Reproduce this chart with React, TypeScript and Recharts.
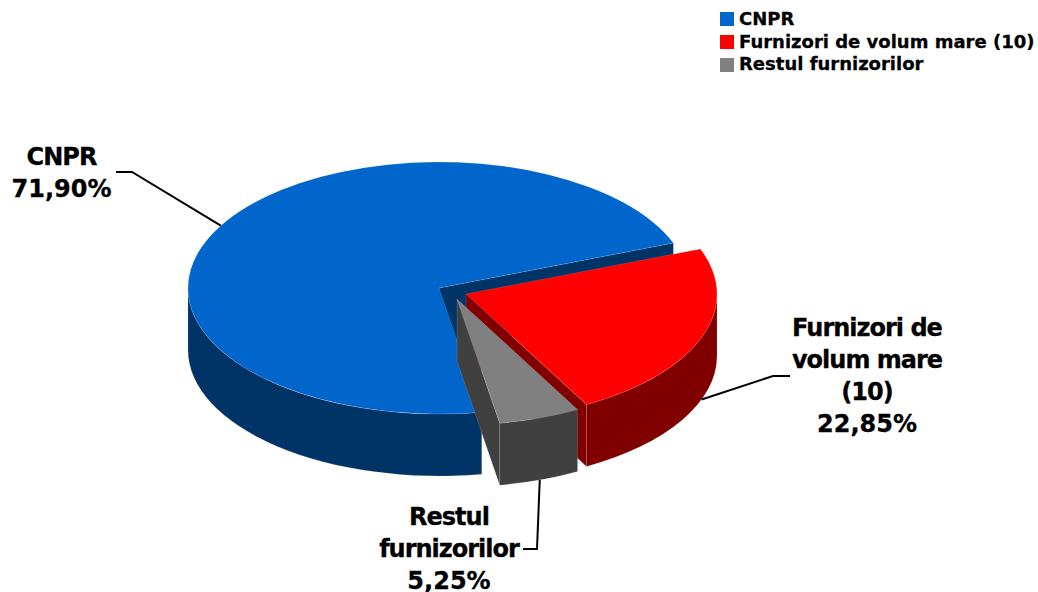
import { Pie, PieChart } from "recharts"

const categories = ["CNPR", "Furnizori de volum mare (10)", "Restul furnizorilor"]
const shares = [71.9, 22.85, 5.25]

const topColors = ["#0066cc", "#ff0000", "#808080"]
const sideColors = ["#003366", "#800000", "#404040"]

// exploded slices, moved away from the pie centre (px)
const explode = [
  { dx: 0, dy: 0 },
  { dx: 27, dy: 6 },
  { dx: 18, dy: 11 },
]

const labelLines = [
  ["CNPR", "71,90%"],
  ["Furnizori de", "volum mare", "(10)", "22,85%"],
  ["Restul", "furnizorilor", "5,25%"],
]

const labelLayout = [
  { x: 61.5, y: 165, onWall: false, elbow: [[132, 172], [116, 172]] },
  { x: 867, y: 336, onWall: true, elbow: [[773, 376], [790, 376]] },
  { x: 449, y: 525, onWall: true, elbow: [[537, 549], [523, 549]] },
]

const tableData = categories.map((name, i) => ({ name, value: shares[i], fill: topColors[i], index: i }))

const FONT = "'DejaVu Sans', Verdana, sans-serif"
const RY = 126
const DEPTH = 62
const EDGE = "rgba(255,255,255,0.2)"

const RAD = Math.PI / 180

function ellipsePoint(cx: number, cy: number, rx: number, angle: number) {
  return { x: cx + rx * Math.cos(angle * RAD), y: cy - RY * Math.sin(angle * RAD) }
}

function Slice3D(props: any) {
  const { cx, cy, outerRadius: rx, payload } = props
  const i = payload.index
  const x0 = cx + explode[i].dx
  const y0 = cy + explode[i].dy

  let start = props.startAngle
  let end = props.endAngle
  if (start > 180) {
    start -= 360
    end -= 360
  }

  const a = ellipsePoint(x0, y0, rx, start)
  const b = ellipsePoint(x0, y0, rx, end)
  const large = start - end > 180 ? 1 : 0
  const top = `M${x0},${y0} L${a.x},${a.y} A${rx},${RY} 0 ${large} 1 ${b.x},${b.y} Z`

  // the cut face at the clockwise end looks toward the viewer
  const cut = `M${x0},${y0} L${b.x},${b.y} L${b.x},${b.y + DEPTH} L${x0},${y0 + DEPTH} Z`

  // outer rim, only the front half of the ellipse
  const rimStart = Math.min(start, 0)
  const rimEnd = Math.max(end, -180)
  const p = ellipsePoint(x0, y0, rx, rimStart)
  const q = ellipsePoint(x0, y0, rx, rimEnd)
  const rim = `M${p.x},${p.y} A${rx},${RY} 0 0 1 ${q.x},${q.y} L${q.x},${q.y + DEPTH} A${rx},${RY} 0 0 0 ${p.x},${p.y + DEPTH} Z`

  return (
    <g>
      <path d={cut} fill={sideColors[i]} stroke={EDGE} strokeWidth={0.6} />
      <path d={rim} fill={sideColors[i]} stroke={EDGE} strokeWidth={0.6} />
      <path d={top} fill={topColors[i]} stroke={EDGE} strokeWidth={0.6} />
    </g>
  )
}

function SliceLabel(props: any) {
  const { cx, cy, outerRadius: rx, midAngle, index } = props
  const layout = labelLayout[index]
  const anchor = ellipsePoint(cx + explode[index].dx, cy + explode[index].dy, rx, midAngle)
  const y = anchor.y + (layout.onWall ? DEPTH : 0)
  const points = [[anchor.x, y], ...layout.elbow].map((pt) => pt.join(",")).join(" ")

  return (
    <g>
      <polyline points={points} fill="none" stroke="#000" strokeWidth={2} />
      <text
        textAnchor="middle"
        fontFamily={FONT}
        fontWeight="bold"
        fontSize={24}
        fill="#000"
        stroke="#000"
        strokeWidth={0.3}
      >
        {labelLines[index].map((line, n) => (
          <tspan key={line} x={layout.x} y={layout.y + n * 32} letterSpacing={line.endsWith("%") ? 0 : -1}>
            {line}
          </tspan>
        ))}
      </text>
    </g>
  )
}

function TopLegend() {
  return (
    <g fontFamily={FONT} fontWeight="bold" fontSize={18}>
      {categories.map((name, i) => (
        <g key={name}>
          <rect x={720} y={12 + i * 23} width={14} height={14} fill={topColors[i]} />
          <text x={739} y={25 + i * 22.7} fill="#000" stroke="#000" strokeWidth={0.3}>
            {name}
          </text>
        </g>
      ))}
    </g>
  )
}

export default function App() {
  return (
    <div style={{ position: "absolute", left: 0, top: 0, width: 1038, height: 592, overflow: "hidden" }}>
      <PieChart width={1038} height={592} margin={{ top: 0, right: 0, bottom: 0, left: 0 }}>
        <Pie
          data={tableData}
          dataKey="value"
          nameKey="name"
          cx={439}
          cy={288}
          innerRadius={0}
          outerRadius={251}
          startAngle={279.8}
          endAngle={-80.2}
          paddingAngle={0}
          stroke="none"
          shape={Slice3D}
          inactiveShape={Slice3D}
          activeShape={Slice3D}
          label={SliceLabel}
          labelLine={false}
          isAnimationActive={false}
        />
        <TopLegend />
      </PieChart>
    </div>
  )
}
